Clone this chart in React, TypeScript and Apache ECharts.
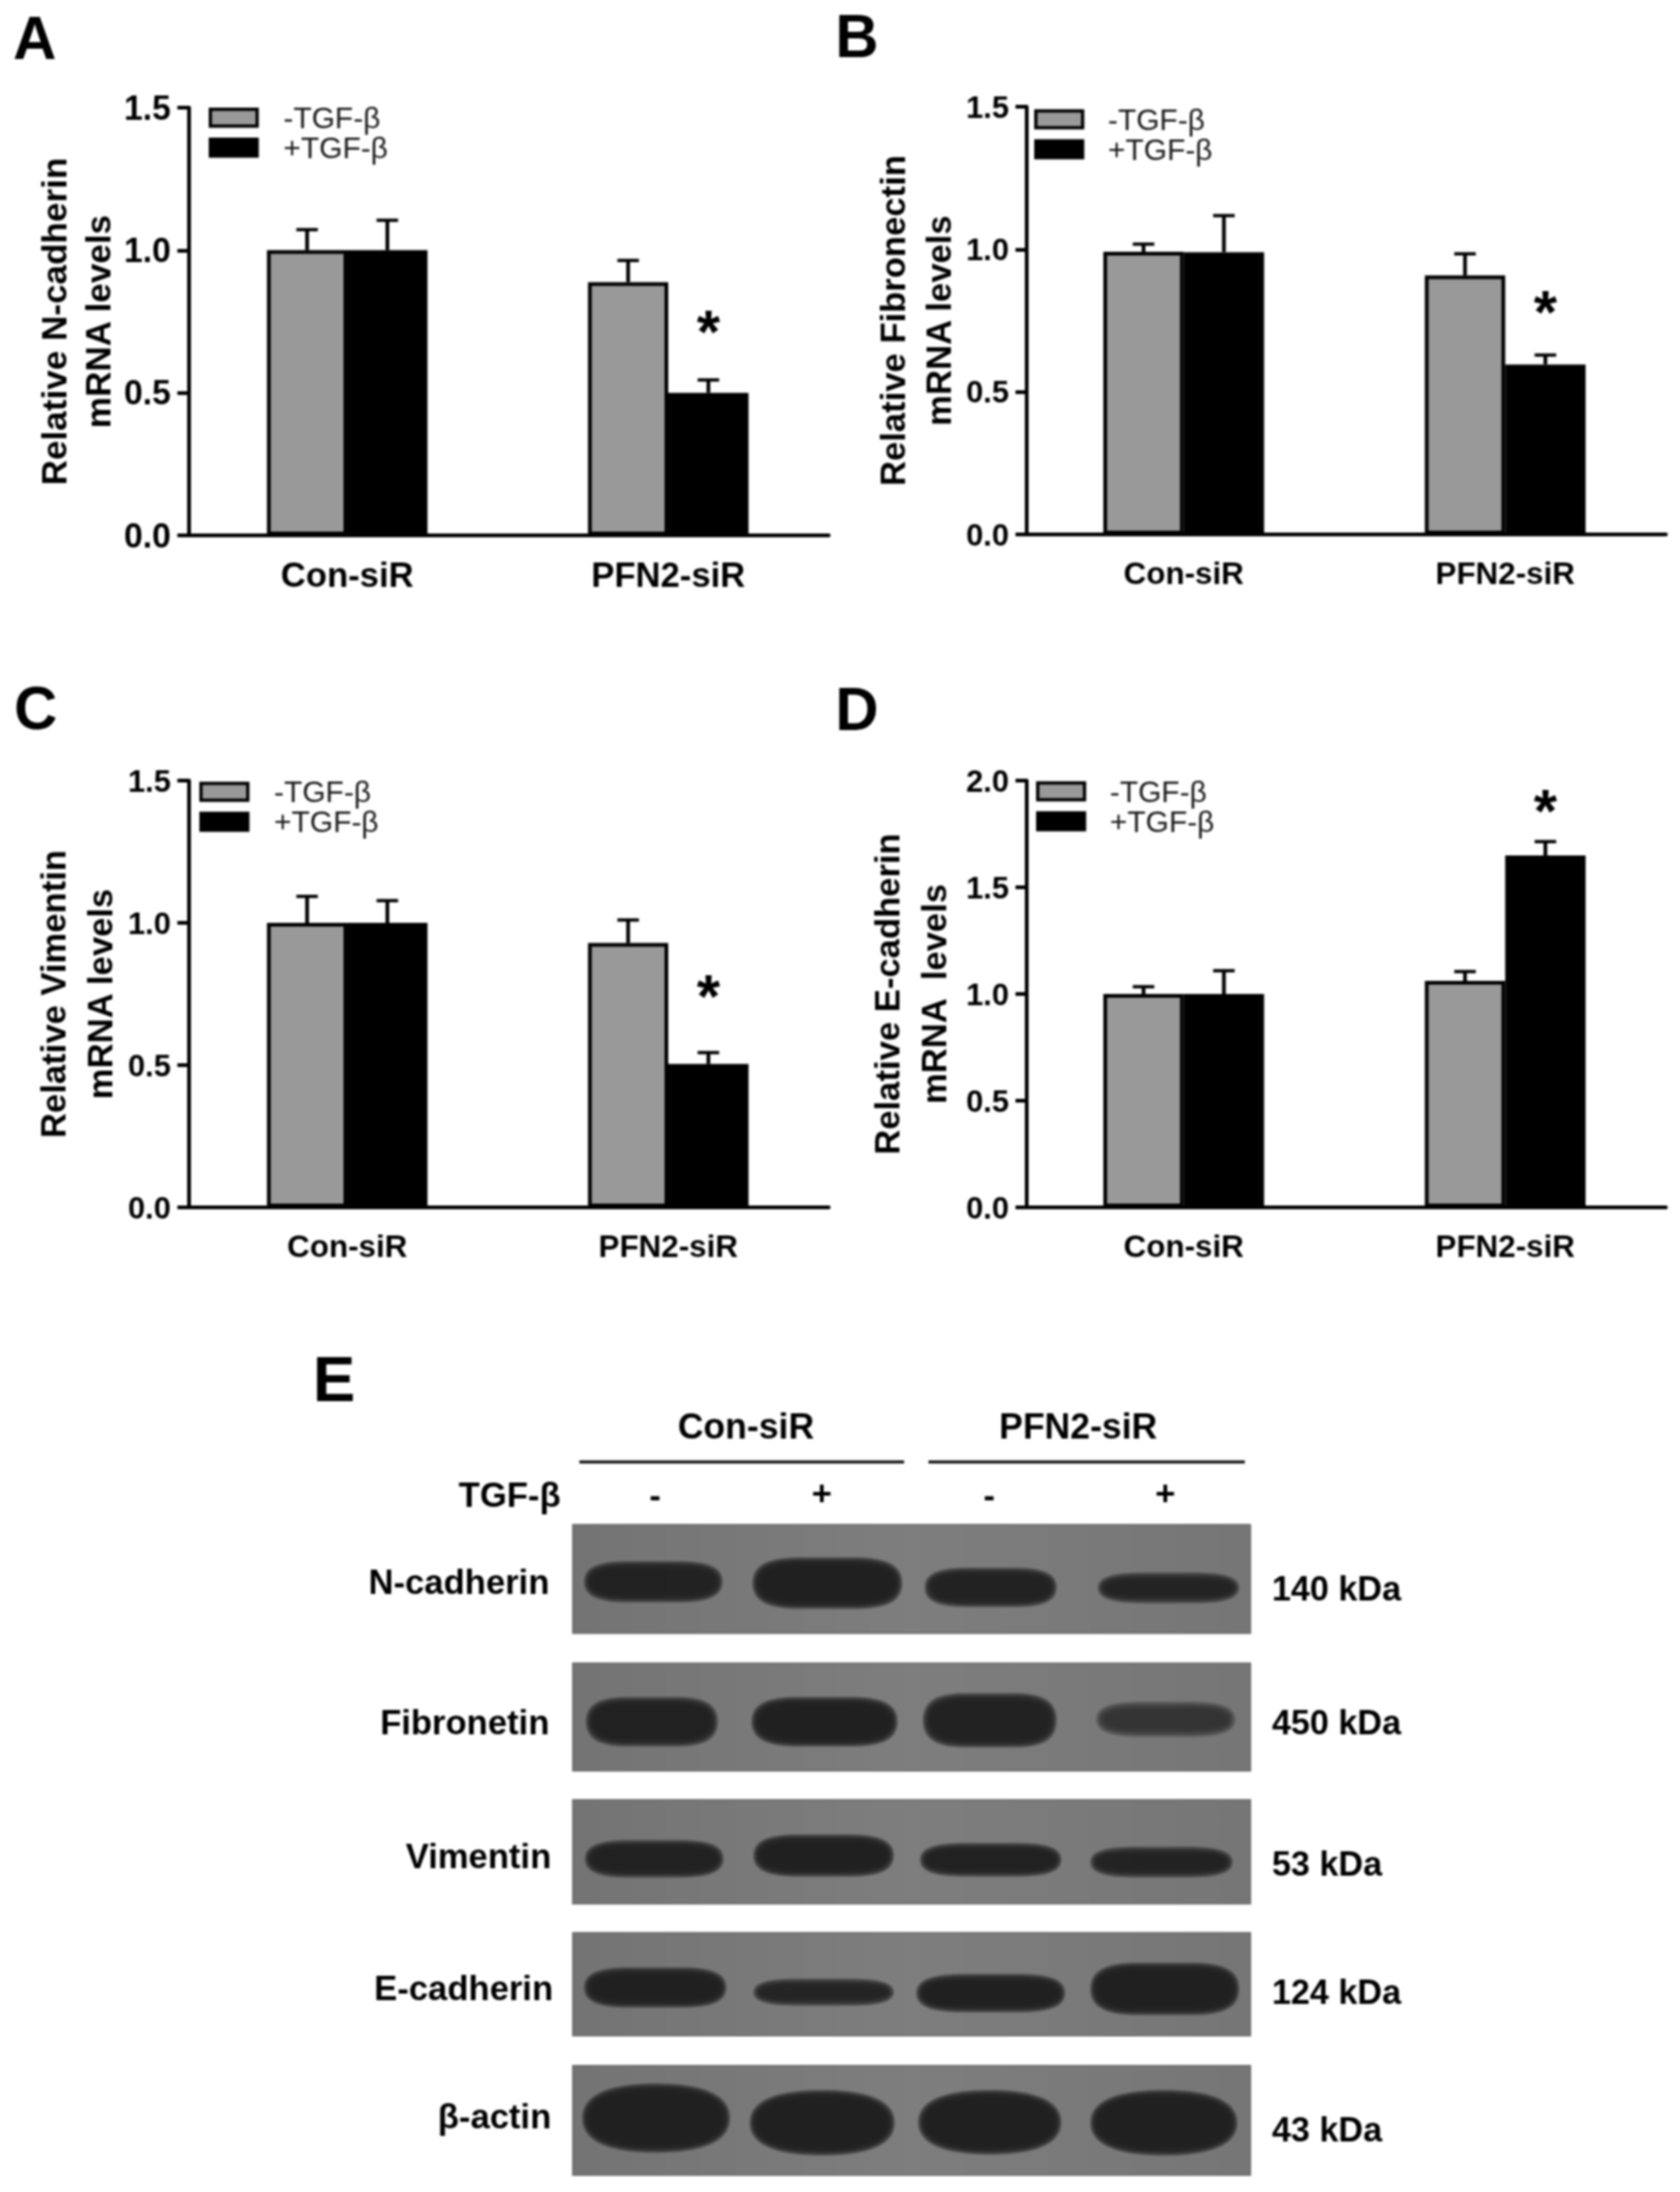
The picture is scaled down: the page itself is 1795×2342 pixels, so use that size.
import React, { useEffect, useRef } from "react";
import * as echarts from "echarts";

const FONT = "Liberation Sans";
const categories = ["Con-siR", "PFN2-siR"];
const legendNames = ["-TGF-β", "+TGF-β"];

// panel A
const aMinus = [1.0, 0.888];
const aPlus = [1.0, 0.5];
const aMinusTop = [1.072, 0.964];
const aPlusTop = [1.105, 0.545];
const aStar = 0.736;
// panel B
const bMinus = [0.991, 0.908];
const bPlus = [0.99, 0.596];
const bMinusTop = [1.018, 0.984];
const bPlusTop = [1.118, 0.629];
const bStar = 0.8;
// panel C
const cMinus = [1.0, 0.929];
const cPlus = [1.0, 0.504];
const cMinusTop = [1.093, 1.01];
const cPlusTop = [1.078, 0.544];
const cStar = 0.764;
// panel D
const dMinus = [1.0, 1.061];
const dPlus = [1.0, 1.649];
const dMinusTop = [1.034, 1.105];
const dPlusTop = [1.109, 1.714];
const dStar = 1.884;

const titles = ["Relative N-cadherin\nmRNA levels", "Relative Fibronectin\nmRNA levels", "Relative Vimentin\nmRNA levels", "Relative E-cadherin\nmRNA  levels"];

// western blot: rows are proteins, columns are lanes
const proteins = ["N-cadherin", "Fibronetin", "Vimentin", "E-cadherin", "β-actin"];
const weights = ["140 kDa", "450 kDa", "53 kDa", "124 kDa", "43 kDa"];
const bandLeft = [
  [628, 808, 992, 1177],
  [630, 807, 990, 1175],
  [629, 809, 987, 1169],
  [628, 809, 983, 1169],
  [626, 805, 985, 1169],
];
const bandRight = [
  [768, 960, 1125, 1320],
  [763, 955, 1125, 1316],
  [769, 951, 1130, 1313],
  [772, 951, 1134, 1320],
  [776, 952, 1130, 1318],
];
const bandTop = [
  [1672, 1668, 1679, 1684],
  [1817, 1817, 1813, 1822],
  [1970, 1964, 1973, 1977],
  [2106, 2118, 2113, 2101],
  [2230, 2237, 2237, 2237],
];
const bandBottom = [
  [1708, 1715, 1713, 1709],
  [1862, 1862, 1863, 1852],
  [2002, 2001, 2001, 2002],
  [2141, 2139, 2146, 2149],
  [2296, 2299, 2298, 2299],
];
const bandDarkness = [
  [0.97, 1, 0.97, 0.8],
  [0.9, 1, 0.95, 0.5],
  [0.98, 1, 0.98, 0.88],
  [1, 0.92, 1, 1],
  [1, 1, 1, 1],
];
const blotTop = [1629, 1777, 1923, 2065, 2207];
const blotBottom = [1745, 1892, 2034, 2175, 2324];

const bandShape = "path://M0 50C0 12 12 0 32 0L68 0C88 0 100 12 100 50C100 88 88 100 68 100L32 100C12 100 0 88 0 50Z";
const roundShape = "path://M0 50C0 10 25 0 50 0C75 0 100 10 100 50C100 90 75 100 50 100C25 100 0 90 0 50Z";
const bandLayers = [9, 7, 5, 3, 1, -1, -3, -6, -10];

const panels = [
  { minus: aMinus, plus: aPlus, minusTop: aMinusTop, plusTop: aPlusTop, star: aStar, starCat: 1, max: 1.5, left: 199.5, width: 686, top: 115, height: 457, off: -2, gap: 60, lh: 47, yFont: 36, xFont: 37, nameFont: 37.5, legLeft: 223, legTop: 125.75, legLh: 32, legPad: 23, title: titles[0] },
  { minus: bMinus, plus: bPlus, minusTop: bMinusTop, plusTop: bPlusTop, star: bStar, starCat: 1, max: 1.5, left: 1093, width: 687, top: 114, height: 457, off: -4, gap: 64, lh: 49, yFont: 33, xFont: 33.5, nameFont: 37, legLeft: 1105, legTop: 125.75, legLh: 28.5, legPad: 22, title: titles[1] },
  { minus: cMinus, plus: cPlus, minusTop: cMinusTop, plusTop: cPlusTop, star: cStar, starCat: 1, max: 1.5, left: 199.5, width: 686, top: 834, height: 456, off: -2, gap: 60, lh: 50, yFont: 33, xFont: 33.5, nameFont: 37, legLeft: 213, legTop: 845.75, legLh: 31.75, legPad: 23, title: titles[2] },
  { minus: dMinus, plus: dPlus, minusTop: dMinusTop, plusTop: dPlusTop, star: dStar, starCat: 1, max: 2, left: 1093, width: 687, top: 834, height: 456, off: -4, gap: 74, lh: 50, yFont: 33, xFont: 33.5, nameFont: 37, legLeft: 1107, legTop: 845, legLh: 31, legPad: 22, title: titles[3] },
];

function errorSeries(index: number, side: number, tops: number[], values: number[]) {
  return {
    type: "custom",
    name: "err" + index + side,
    xAxisIndex: index,
    yAxisIndex: index,
    z: 1,
    data: tops.map((t, i) => [i, t, values[i]]),
    renderItem: (_: any, api: any) => {
      const band = api.size([1, 0])[0];
      const top = api.coord([api.value(0), api.value(1)]);
      const base = api.coord([api.value(0), api.value(2)]);
      const x = top[0] + (side * band * 0.25) / 2;
      const stroke = { stroke: "#000", lineWidth: 4 };
      return {
        type: "group",
        children: [
          { type: "line", shape: { x1: x, y1: top[1], x2: x, y2: base[1] }, style: stroke },
          { type: "line", shape: { x1: x - 11.5, y1: top[1], x2: x + 11.5, y2: top[1] }, style: { stroke: "#000", lineWidth: 3.5 } },
        ],
      };
    },
  };
}

function starSeries(index: number, cat: number, value: number) {
  return {
    type: "custom",
    name: "star" + index,
    xAxisIndex: index,
    yAxisIndex: index,
    z: 5,
    data: [[cat, value]],
    renderItem: (_: any, api: any) => {
      const band = api.size([1, 0])[0];
      const p = api.coord([api.value(0), api.value(1)]);
      return {
        type: "text",
        style: {
          x: p[0] + (band * 0.25) / 2,
          y: p[1] + 7,
          text: "*",
          fill: "#000",
          align: "center",
          verticalAlign: "middle",
          font: `bold 64px "${FONT}"`,
        },
      };
    },
  };
}

function label(text: string, x: number, y: number, size: number, align = "center", weight = "bold") {
  return {
    type: "text",
    z: 10,
    style: { x, y, text, fill: "#000", align, verticalAlign: "middle", font: `${weight} ${size}px "${FONT}"` },
  };
}

function buildOption() {
  const grid: any[] = [];
  const xAxis: any[] = [];
  const yAxis: any[] = [];
  const legend: any[] = [];
  const series: any[] = [];

  panels.forEach((p, i) => {
    grid.push({ left: p.left, top: p.top, width: p.width, height: p.height, containLabel: false, outerBoundsMode: "none" });
    xAxis.push({
      type: "category",
      gridIndex: i,
      data: categories,
      axisLine: { lineStyle: { color: "#000", width: 4 } },
      axisTick: { alignWithLabel: true, length: 14, lineStyle: { color: "#000", width: 4 } },
      axisLabel: { color: "#000", fontFamily: FONT, fontWeight: "bold", fontSize: p.xFont, margin: 24 },
      splitLine: { show: false },
    });
    yAxis.push({
      type: "value",
      gridIndex: i,
      min: 0,
      max: p.max,
      interval: 0.5,
      offset: p.off,
      name: p.title,
      nameLocation: "middle",
      nameRotate: 90,
      nameGap: p.gap,
      nameTextStyle: { color: "#000", fontFamily: FONT, fontWeight: "bold", fontSize: p.nameFont, lineHeight: p.lh },
      axisLine: { show: true, lineStyle: { color: "#000", width: 4 } },
      axisTick: { show: true, length: 12, lineStyle: { color: "#000", width: 4 } },
      axisLabel: { color: "#000", fontFamily: FONT, fontWeight: "bold", fontSize: p.yFont, margin: 19, formatter: (v: number) => v.toFixed(1) },
      splitLine: { show: false },
    });
    legend.push({
      orient: "vertical",
      left: p.legLeft,
      top: p.legTop - p.legLh / 2,
      padding: 0,
      itemGap: 0,
      itemWidth: 50,
      itemHeight: 18,
      icon: "rect",
      selectedMode: false,
      data: legendNames,
      itemStyle: { borderColor: "#000", borderWidth: 3.5 },
      textStyle: { color: "#1a1a1a", fontFamily: FONT, fontSize: 32, lineHeight: p.legLh, padding: [0, 0, 0, p.legPad] },
    });
    series.push(
      {
        type: "bar",
        name: legendNames[0],
        xAxisIndex: i,
        yAxisIndex: i,
        data: p.minus,
        barWidth: "25%",
        barGap: "0%",
        z: 2,
        itemStyle: { color: "#999999", borderColor: "#000", borderWidth: 4 },
      },
      {
        type: "bar",
        name: legendNames[1],
        xAxisIndex: i,
        yAxisIndex: i,
        data: p.plus,
        barWidth: "25%",
        barGap: "0%",
        z: 2,
        itemStyle: { color: "#000", borderColor: "#000", borderWidth: 4 },
      },
      errorSeries(i, -1, p.minusTop, p.minus),
      errorSeries(i, 1, p.plusTop, p.plus),
      starSeries(i, p.starCat, p.star)
    );
  });

  // blot grid: pixel scale of the scanned film
  const bi = panels.length;
  const bLeft = 612;
  const bRight = 1336;
  grid.push({ left: bLeft, top: blotTop[0], width: bRight - bLeft, height: blotBottom[4] - blotTop[0], outerBoundsMode: "none" });
  xAxis.push({ type: "value", gridIndex: bi, min: bLeft, max: bRight, show: false });
  yAxis.push({ type: "value", gridIndex: bi, min: blotTop[0], max: blotBottom[4], inverse: true, show: false });

  bandLayers.forEach((delta, layer) => {
    const data: any[] = [];
    proteins.forEach((_, r) => {
      bandLeft[r].forEach((l, c) => {
        const rgt = bandRight[r][c];
        const t = bandTop[r][c];
        const b = bandBottom[r][c];
        const h = b - t;
        data.push({
          value: [(l + rgt) / 2, (t + b) / 2],
          symbol: h > 50 ? roundShape : bandShape,
          symbolSize: [rgt - l + delta, Math.max(h + delta, 6)],
          itemStyle: { opacity: 0.3 * bandDarkness[r][c] },
        });
      });
    });
    series.push({
      type: "scatter",
      name: "bands" + layer,
      xAxisIndex: bi,
      yAxisIndex: bi,
      clip: false,
      data,
      z: 3 + layer,
      itemStyle: { color: "#1f1f1f" },
    });
  });

  const graphic: any[] = [
    label("A", 37, 41, 64),
    label("B", 915.5, 39, 64),
    label("C", 38, 757, 64),
    label("D", 915.5, 758, 64),
    label("E", 357, 1473, 68),
    label("Con-siR", 797, 1524, 38),
    label("PFN2-siR", 1152, 1524, 38),
    label("TGF-β", 599, 1597, 37, "right"),
    label("-", 700, 1597, 37),
    label("+", 878, 1595, 37),
    label("-", 1057, 1597, 37),
    label("+", 1245, 1595, 37),
    { type: "line", z: 10, shape: { x1: 619, y1: 1562, x2: 966, y2: 1562 }, style: { stroke: "#000", lineWidth: 3 } },
    { type: "line", z: 10, shape: { x1: 992, y1: 1562, x2: 1330, y2: 1562 }, style: { stroke: "#000", lineWidth: 3 } },
  ];
  const proteinRight = [587, 587, 589, 591, 589];
  const proteinY = [1690, 1840, 1983, 2124, 2261];
  const weightY = [1697, 1840, 1991, 2128, 2275];
  proteins.forEach((name, r) => {
    graphic.push({
      type: "rect",
      z: 0,
      shape: { x: bLeft, y: blotTop[r], width: bRight - bLeft, height: blotBottom[r] - blotTop[r] },
      style: {
        fill: new echarts.graphic.LinearGradient(0, 0, 1, 0, [
          { offset: 0, color: "#747474" },
          { offset: 0.5, color: "#7e7e7e" },
          { offset: 1, color: "#767676" },
        ]),
        stroke: "#6a6a6a",
        lineWidth: 1.5,
      },
    });
    graphic.push(label(name, proteinRight[r], proteinY[r], 37, "right"));
    graphic.push(label(weights[r], 1359, weightY[r], 36.5, "left"));
  });

  return {
    animation: false,
    backgroundColor: "#ffffff",
    grid,
    xAxis,
    yAxis,
    legend,
    series,
    graphic,
  };
}

export default function App() {
  const ref = useRef<HTMLDivElement>(null);
  useEffect(() => {
    document.body.style.margin = "0";
    const chart = echarts.init(ref.current!, undefined, { renderer: "svg", width: 1795, height: 2342 });
    chart.setOption(buildOption() as any);
    return () => chart.dispose();
  }, []);
  return <div ref={ref} style={{ width: 1795, height: 2342, filter: "blur(1px)" }} />;
}
